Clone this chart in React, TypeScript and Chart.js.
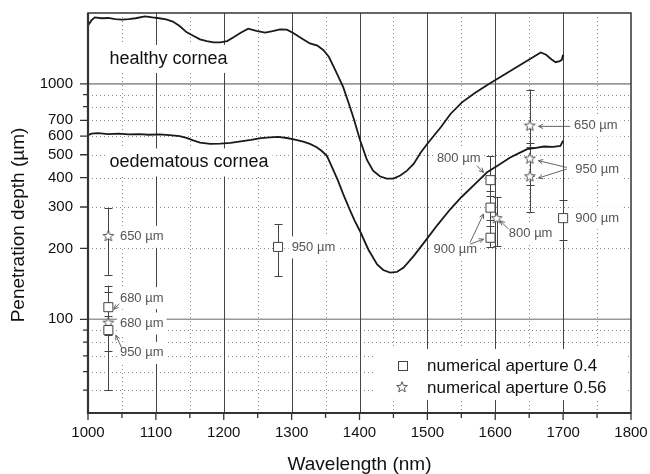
import React, { useEffect, useRef } from "react";
import { Chart, registerables } from "chart.js";
Chart.register(...registerables);

const FONT = "'Liberation Sans', Arial, Helvetica, sans-serif";

// ---- curves ----
const healthyWl = [1000,1005,1010,1020,1030,1040,1050,1060,1070,1084,1095,1105,1115,1125,1135,1145,1155,1165,1175,1185,1195,1205,1215,1225,1236,1248,1261,1272,1283,1293,1303,1315,1327,1338,1347,1355,1362,1369,1376,1384,1391,1401,1411,1420,1430,1440,1450,1460,1470,1480,1490,1500,1520,1534,1551,1570,1590,1610,1630,1650,1667,1675,1683,1689,1695,1698,1700];
const healthyDepth = [1770,1860,1915,1900,1905,1885,1875,1885,1900,1935,1915,1900,1880,1840,1760,1660,1600,1545,1520,1500,1500,1520,1580,1650,1715,1680,1650,1675,1705,1700,1640,1560,1485,1455,1390,1300,1180,1070,968,830,720,575,475,428,405,396,396,408,428,458,510,557,656,745,835,915,997,1080,1170,1270,1360,1330,1270,1236,1250,1265,1330];

const oedemaWl = [1000,1005,1015,1030,1045,1060,1075,1090,1105,1120,1135,1145,1155,1165,1180,1195,1210,1225,1240,1255,1268,1280,1293,1305,1317,1327,1337,1344,1352,1360,1368,1376,1385,1393,1401,1413,1426,1435,1445,1455,1465,1480,1499,1515,1534,1550,1570,1588,1605,1622,1635,1647,1660,1672,1685,1696,1700];
const oedemaDepth = [605,615,618,612,615,610,612,608,610,606,600,590,575,563,556,557,562,570,578,588,593,595,589,580,568,556,538,520,495,440,390,340,295,262,236,198,171,162,158,159,166,186,219,252,294,330,375,421,452,487,508,528,535,542,540,545,574];

// ---- measurements: numerical aperture 0.4 (squares) ----
const sqWl = [1030, 1030, 1280, 1593, 1593, 1593, 1700];
const sqDepth = [112.6, 90, 203, 390, 298, 222, 269];
const sqLow = [86, 50, 152, 335, 250, 203, 217];
const sqHigh = [139, 103, 254, 495, 351, 265, 322];

// ---- measurements: numerical aperture 0.56 (stars) ----
const stWl = [1030, 1030, 1602, 1651, 1651, 1651];
const stDepth = [226, 96.8, 269, 665, 482, 405];
const stLow = [154.5, 73, 204, 373, 405, 286];
const stHigh = [297, 130, 331, 946, 559, 537];

const seriesNames = ["numerical aperture 0.4", "numerical aperture 0.56"];
const curveNames = ["healthy cornea", "oedematous cornea"];
const curveLabelWl = [1031.5, 1031.5];
const curveLabelDepth = [1216, 441.5];

// ---- annotations (data units) ----
const noteText = ["650 µm", "680 µm", "680 µm", "950 µm", "950 µm", "800 µm", "900 µm", "800 µm", "650 µm", "950 µm", "900 µm"];
const noteWl = [1047, 1047, 1047, 1047, 1300, 1514, 1509, 1620, 1716, 1718, 1718];
const noteDepth = [224, 123, 96, 72, 202, 480, 199, 232, 665, 435, 269];

const arrowFromWl = [1046, 1049.5, 1573, 1563, 1563, 1619.6, 1710.5, 1705.4, 1705.4];
const arrowFromDepth = [116.5, 75.7, 449, 212, 208.5, 241.5, 660, 441.6, 434.9];
const arrowToWl = [1038.3, 1041.1, 1582.7, 1582.7, 1582.7, 1607.3, 1663.8, 1663.5, 1663.5];
const arrowToDepth = [110.3, 85.5, 421, 280, 219, 262, 660, 472, 398];

// ---- axes ----
const xMajor = [1000, 1100, 1200, 1300, 1400, 1500, 1600, 1700, 1800];
const xMinor = [1050, 1150, 1250, 1350, 1450, 1550, 1650, 1750];
const xSolidGrid = [1100, 1200, 1300, 1400, 1500, 1600, 1700];
const yLabelTicks = [100, 200, 300, 400, 500, 600, 700, 1000];
const yMinorTicks = [50, 60, 70, 80, 90, 800, 900];
const ySolidGrid = [100, 1000];
const yDottedGrid = [50, 60, 70, 80, 90, 200, 300, 400, 500, 600, 700, 800, 900];
const xTitle = "Wavelength (nm)";
const yTitle = "Penetration depth (µm)";

function makeStar(): HTMLCanvasElement {
  const c = document.createElement("canvas");
  c.width = 14;
  c.height = 14;
  const g = c.getContext("2d")!;
  g.beginPath();
  const R = 5.6, r = 2.4, cx = 7, cy = 7.3;
  for (let i = 0; i < 10; i++) {
    const rad = i % 2 === 0 ? R : r;
    const a = -Math.PI / 2 + (i * Math.PI) / 5;
    const px = cx + rad * Math.cos(a);
    const py = cy + rad * Math.sin(a);
    if (i === 0) g.moveTo(px, py);
    else g.lineTo(px, py);
  }
  g.closePath();
  g.fillStyle = "#fff";
  g.fill();
  g.strokeStyle = "#444";
  g.lineWidth = 0.9;
  g.stroke();
  return c;
}

export default function App() {
  const ref = useRef<HTMLCanvasElement | null>(null);

  useEffect(() => {
    const canvas = ref.current;
    if (!canvas) return;
    const star = makeStar();

    const noteBoxes = (chart: any) => {
      const ctx = chart.ctx;
      const xs = chart.scales.x, ys = chart.scales.y;
      ctx.save();
      ctx.font = `13px ${FONT}`;
      const boxes: number[][] = [];
      noteText.forEach((t, i) => {
        const x = xs.getPixelForValue(noteWl[i]);
        const y = ys.getPixelForValue(noteDepth[i]);
        const w = ctx.measureText(t).width;
        boxes.push([x - 3, y - 11, w + 6, 22]);
      });
      ctx.font = `18px ${FONT}`;
      curveNames.forEach((t, i) => {
        const x = xs.getPixelForValue(curveLabelWl[i]);
        const y = ys.getPixelForValue(curveLabelDepth[i]);
        const w = ctx.measureText(t).width;
        boxes.push([x - 4, y - 19, w + 8, 28]);
      });
      ctx.restore();
      return boxes;
    };

    const legendBox = (chart: any) => {
      const ca = chart.chartArea;
      return { left: ca.right - 256, top: ca.bottom - 64, right: ca.right - 6, bottom: ca.bottom - 13 };
    };

    const backPlugin = {
      id: "backLayer",
      beforeDatasetsDraw(chart: any) {
        const ctx = chart.ctx;
        const ca = chart.chartArea;
        const xs = chart.scales.x, ys = chart.scales.y;
        ctx.save();
        // dotted grid
        ctx.strokeStyle = "#8a8a8a";
        ctx.lineWidth = 1;
        ctx.setLineDash([1, 3]);
        xMinor.forEach((v) => {
          const x = Math.round(xs.getPixelForValue(v)) + 0.5;
          ctx.beginPath();
          ctx.moveTo(x, ca.top);
          ctx.lineTo(x, ca.bottom);
          ctx.stroke();
        });
        yDottedGrid.forEach((v) => {
          const y = Math.round(ys.getPixelForValue(v)) + 0.5;
          ctx.beginPath();
          ctx.moveTo(ca.left, y);
          ctx.lineTo(ca.right, y);
          ctx.stroke();
        });
        ctx.setLineDash([]);
        // solid grid
        ctx.strokeStyle = "#999";
        ctx.lineWidth = 1.6;
        ySolidGrid.forEach((v) => {
          const y = ys.getPixelForValue(v);
          ctx.beginPath();
          ctx.moveTo(ca.left, y);
          ctx.lineTo(ca.right, y);
          ctx.stroke();
        });
        ctx.strokeStyle = "#444";
        ctx.lineWidth = 1;
        xSolidGrid.forEach((v) => {
          const x = Math.round(xs.getPixelForValue(v)) + 0.5;
          ctx.beginPath();
          ctx.moveTo(x, ca.top);
          ctx.lineTo(x, ca.bottom);
          ctx.stroke();
        });
        // white label boxes
        ctx.fillStyle = "#fff";
        noteBoxes(chart).forEach((b) => ctx.fillRect(b[0], b[1], b[2], b[3]));
        const lb = legendBox(chart);
        ctx.fillRect(lb.left, lb.top, lb.right - lb.left, lb.bottom - lb.top);
        // error bars
        ctx.strokeStyle = "#444";
        ctx.lineWidth = 1;
        const bars = (wl: number[], lo: number[], hi: number[]) => {
          wl.forEach((w, i) => {
            const x = Math.round(xs.getPixelForValue(w)) + 0.5;
            const y1 = ys.getPixelForValue(lo[i]);
            const y2 = ys.getPixelForValue(hi[i]);
            ctx.beginPath();
            ctx.moveTo(x, y1);
            ctx.lineTo(x, y2);
            ctx.moveTo(x - 4, Math.round(y1) + 0.5);
            ctx.lineTo(x + 4, Math.round(y1) + 0.5);
            ctx.moveTo(x - 4, Math.round(y2) + 0.5);
            ctx.lineTo(x + 4, Math.round(y2) + 0.5);
            ctx.stroke();
          });
        };
        bars(sqWl, sqLow, sqHigh);
        bars(stWl, stLow, stHigh);
        ctx.restore();
      },
      afterDraw(chart: any) {
        const ctx = chart.ctx;
        const ca = chart.chartArea;
        const xs = chart.scales.x, ys = chart.scales.y;
        ctx.save();
        // notes
        ctx.fillStyle = "#555";
        ctx.font = `13px ${FONT}`;
        ctx.textBaseline = "middle";
        ctx.textAlign = "left";
        noteText.forEach((t, i) => {
          ctx.fillText(t, xs.getPixelForValue(noteWl[i]), ys.getPixelForValue(noteDepth[i]));
        });
        // arrows
        ctx.strokeStyle = "#555";
        ctx.lineWidth = 0.9;
        arrowFromWl.forEach((w, i) => {
          const x1 = xs.getPixelForValue(w), y1 = ys.getPixelForValue(arrowFromDepth[i]);
          const x2 = xs.getPixelForValue(arrowToWl[i]), y2 = ys.getPixelForValue(arrowToDepth[i]);
          const a = Math.atan2(y2 - y1, x2 - x1);
          ctx.beginPath();
          ctx.moveTo(x1, y1);
          ctx.lineTo(x2, y2);
          ctx.moveTo(x2 - 5 * Math.cos(a - 0.45), y2 - 5 * Math.sin(a - 0.45));
          ctx.lineTo(x2, y2);
          ctx.lineTo(x2 - 5 * Math.cos(a + 0.45), y2 - 5 * Math.sin(a + 0.45));
          ctx.stroke();
        });
        // curve labels
        ctx.fillStyle = "#111";
        ctx.font = `18px ${FONT}`;
        ctx.textBaseline = "alphabetic";
        curveNames.forEach((t, i) => {
          ctx.fillText(t, xs.getPixelForValue(curveLabelWl[i]), ys.getPixelForValue(curveLabelDepth[i]));
        });
        // legend
        const lb = legendBox(chart);
        const rows = [lb.top + 16, lb.top + 38];
        ctx.font = `17px ${FONT}`;
        ctx.textBaseline = "middle";
        seriesNames.forEach((t, i) => {
          const sx = lb.left + 27;
          const sy = rows[i];
          if (i === 0) {
            ctx.fillStyle = "#fff";
            ctx.fillRect(sx - 4.5, sy - 4.5, 9, 9);
            ctx.strokeStyle = "#444";
            ctx.lineWidth = 1;
            ctx.strokeRect(Math.round(sx - 4.5) + 0.5, Math.round(sy - 4.5) + 0.5, 9, 9);
          } else {
            ctx.drawImage(star, sx - 7, sy - 7);
          }
          ctx.fillStyle = "#111";
          ctx.fillText(t, lb.left + 52, sy + 1);
        });
        // frame
        ctx.strokeStyle = "#333";
        ctx.lineWidth = 1.5;
        ctx.strokeRect(ca.left, ca.top, ca.right - ca.left, ca.bottom - ca.top);
        ctx.lineWidth = 2.2;
        ctx.beginPath();
        ctx.moveTo(ca.left, ca.top);
        ctx.lineTo(ca.left, ca.bottom);
        ctx.lineTo(ca.right, ca.bottom);
        ctx.stroke();
        // ticks
        ctx.lineWidth = 1.3;
        ctx.beginPath();
        xMajor.forEach((v) => {
          const x = xs.getPixelForValue(v);
          ctx.moveTo(x, ca.bottom);
          ctx.lineTo(x, ca.bottom + 7);
        });
        xMinor.forEach((v) => {
          const x = xs.getPixelForValue(v);
          ctx.moveTo(x, ca.bottom);
          ctx.lineTo(x, ca.bottom + 5);
        });
        yLabelTicks.forEach((v) => {
          const y = ys.getPixelForValue(v);
          ctx.moveTo(ca.left - 8, y);
          ctx.lineTo(ca.left, y);
        });
        yMinorTicks.forEach((v) => {
          const y = ys.getPixelForValue(v);
          ctx.moveTo(ca.left - 5, y);
          ctx.lineTo(ca.left, y);
        });
        ctx.stroke();
        // axis titles
        ctx.fillStyle = "#111";
        ctx.font = `19px ${FONT}`;
        ctx.textAlign = "center";
        ctx.textBaseline = "alphabetic";
        ctx.fillText(xTitle, (ca.left + ca.right) / 2, 470);
        ctx.translate(24, 225);
        ctx.rotate(-Math.PI / 2);
        ctx.fillText(yTitle, 0, 0);
        ctx.restore();
      },
    };

    const chart = new Chart(canvas, {
      type: "scatter",
      data: {
        datasets: [
          {
            label: curveNames[0],
            data: healthyWl.map((w, i) => ({ x: w, y: healthyDepth[i] })),
            showLine: true,
            borderColor: "#1a1a1a",
            borderWidth: 1.8,
            pointRadius: 0,
            tension: 0,
          },
          {
            label: curveNames[1],
            data: oedemaWl.map((w, i) => ({ x: w, y: oedemaDepth[i] })),
            showLine: true,
            borderColor: "#1a1a1a",
            borderWidth: 1.8,
            pointRadius: 0,
            tension: 0,
          },
          {
            label: seriesNames[0],
            data: sqWl.map((w, i) => ({ x: w, y: sqDepth[i] })),
            pointStyle: "rect",
            pointRadius: 6.4,
            borderColor: "#444",
            backgroundColor: "#fff",
            borderWidth: 1,
          },
          {
            label: seriesNames[1],
            data: stWl.map((w, i) => ({ x: w, y: stDepth[i] })),
            pointStyle: star as any,
            pointRadius: 6,
            borderColor: "#444",
            backgroundColor: "#fff",
          },
        ],
      },
      options: {
        animation: false,
        responsive: false,
        maintainAspectRatio: false,
        layout: { padding: { top: 13, right: 19, left: 0, bottom: 0 } },
        plugins: { legend: { display: false }, tooltip: { enabled: false } },
        scales: {
          x: {
            type: "linear",
            min: 1000,
            max: 1800,
            afterBuildTicks: (s: any) => {
              s.ticks = xMajor.map((v) => ({ value: v }));
            },
            afterFit: (s: any) => {
              s.height = 61;
              s.paddingLeft = 0;
              s.paddingRight = 0;
            },
            ticks: {
              font: { family: FONT, size: 15 },
              color: "#111",
              padding: 11,
              maxRotation: 0,
              autoSkip: false,
              callback: (v: any) => String(v),
            },
            grid: { display: false, drawTicks: false, tickLength: 0 },
            border: { display: false },
          },
          y: {
            type: "logarithmic",
            min: 40,
            max: 2000,
            afterBuildTicks: (s: any) => {
              s.ticks = yLabelTicks.map((v) => ({ value: v }));
            },
            afterFit: (s: any) => {
              s.width = 88;
              s.paddingTop = 0;
              s.paddingBottom = 0;
            },
            ticks: {
              font: { family: FONT, size: 15 },
              color: "#111",
              padding: 15,
              autoSkip: false,
              callback: (v: any) => String(v),
            },
            grid: { display: false, drawTicks: false, tickLength: 0 },
            border: { display: false },
          },
        },
      },
      plugins: [backPlugin],
    });
    return () => chart.destroy();
  }, []);

  return (
    <div style={{ position: "fixed", left: 0, top: 0, width: 650, height: 474, background: "#fff" }}>
      <canvas ref={ref} width={650} height={474} style={{ display: "block" }} />
    </div>
  );
}
